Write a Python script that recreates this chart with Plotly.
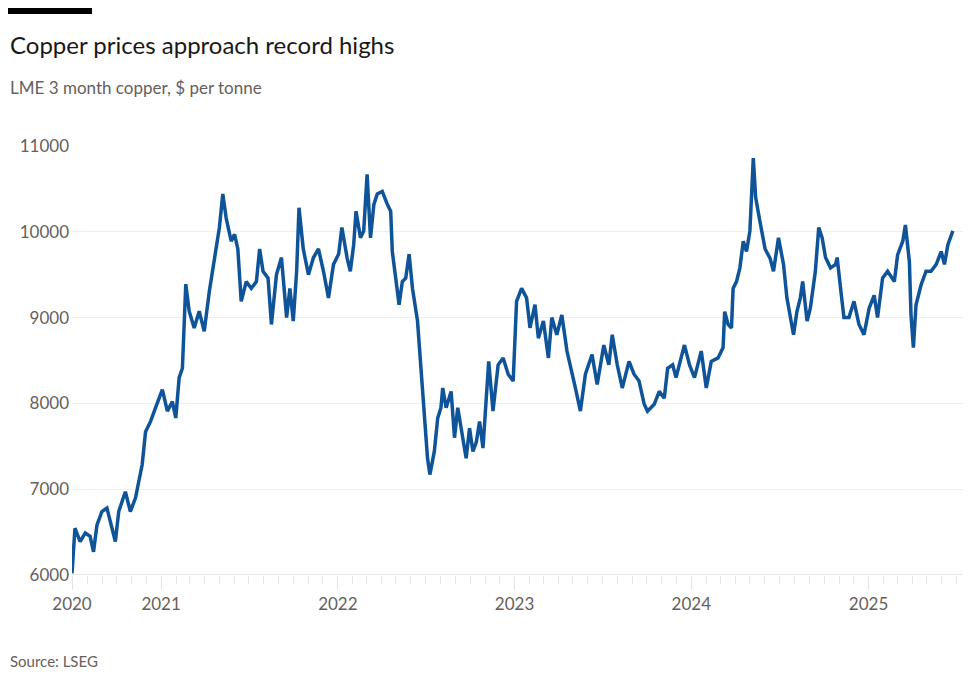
import pandas as pd
import plotly.graph_objects as go

# months after 1 July 2020, and LME 3 month copper price ($/t)
months = [0.0, 0.2, 0.55, 0.9, 1.23, 1.46, 1.69, 2.03, 2.37, 2.71, 2.94, 3.17, 3.62, 3.96, 4.31, 4.53,
          4.76, 4.99, 5.33, 5.67, 6.13, 6.47, 6.81, 7.04, 7.27, 7.49, 7.72, 7.95, 8.29, 8.63, 8.97,
          9.32, 9.66, 10.0, 10.23, 10.46, 10.8, 11.03, 11.25, 11.48, 11.82, 12.16, 12.51, 12.73,
          12.96, 13.3, 13.53, 13.87, 14.21, 14.56, 14.78, 15.01, 15.24, 15.4, 15.69, 16.04, 16.38,
          16.72, 17.06, 17.4, 17.74, 18.09, 18.31, 18.66, 18.88, 19.11, 19.27, 19.57, 19.79, 20.02,
          20.25, 20.48, 20.71, 21.05, 21.39, 21.62, 21.73, 21.96, 22.19, 22.41, 22.64, 22.87, 23.1,
          23.44, 23.67, 23.9, 24.12, 24.28, 24.58, 24.81, 25.03, 25.15, 25.38, 25.72, 25.95, 26.17,
          26.51, 26.74, 26.97, 27.2, 27.43, 27.65, 27.88, 28.11, 28.27, 28.56, 28.91, 29.25, 29.59,
          29.93, 30.16, 30.5, 30.84, 31.07, 31.41, 31.64, 31.98, 32.32, 32.55, 32.89, 33.23, 33.58,
          33.92, 34.15, 34.49, 34.83, 35.28, 35.63, 36.08, 36.42, 36.65, 36.99, 37.33, 37.79, 38.13,
          38.47, 38.82, 39.04, 39.5, 39.84, 40.18, 40.41, 40.75, 40.98, 41.32, 41.55, 41.89, 42.23,
          42.69, 43.03, 43.37, 43.83, 44.17, 44.28, 44.51, 44.74, 44.85, 45.08, 45.31, 45.54, 45.76,
          45.99, 46.22, 46.38, 46.67, 47.02, 47.36, 47.59, 47.93, 48.27, 48.5, 48.72, 48.95, 49.18,
          49.41, 49.57, 49.87, 50.09, 50.43, 50.66, 50.89, 51.12, 51.46, 51.8, 51.91, 52.14, 52.37,
          52.71, 53.05, 53.39, 53.73, 54.08, 54.42, 54.65, 54.99, 55.33, 55.79, 56.01, 56.36, 56.54,
          56.81, 56.92, 57.08, 57.26, 57.6, 57.94, 58.28, 58.63, 58.97, 59.19, 59.42, 59.76]
prices = [6020, 6545, 6390, 6490, 6450, 6270, 6580, 6740, 6780, 6545, 6390, 6740, 6970, 6740, 6900, 7090,
          7285, 7670, 7790, 7950, 8160, 7910, 8020, 7830, 8300, 8410, 9390, 9075, 8880, 9075, 8840,
          9310, 9700, 10050, 10440, 10160, 9890, 9970, 9800, 9190, 9420, 9340, 9420, 9800,
          9540, 9460, 8920, 9500, 9700, 9000, 9340, 8960, 9540, 10280, 9800, 9500, 9700,
          9800, 9540, 9230, 9620, 9740, 10050, 9700, 9540, 9850, 10240, 9930, 10010, 10670,
          9930, 10320, 10440, 10470, 10320, 10240, 9770, 9460, 9150, 9420, 9460, 9740, 9340,
          8960, 8410, 7870, 7360, 7170, 7440, 7830, 7950, 8180, 7950, 8140, 7600, 7950,
          7630, 7360, 7710, 7440, 7550, 7790, 7480, 8100, 8490, 7910, 8450, 8530, 8340,
          8260, 9190, 9340, 9230, 8880, 9150, 8760, 8960, 8530, 9000, 8800, 9030, 8610,
          8370, 8180, 7910, 8340, 8570, 8220, 8680, 8450, 8800, 8450, 8180, 8490, 8340,
          8260, 7990, 7910, 7990, 8140, 8060, 8410, 8450, 8300, 8530, 8680, 8450, 8300,
          8610, 8180, 8490, 8530, 8650, 9070, 8920, 8880, 9340, 9420, 9580, 9890, 9770,
          10010, 10860, 10400, 10120, 9800, 9690, 9540, 9930, 9620, 9230, 9000, 8800, 9070,
          9230, 9420, 8960, 9110, 9540, 10050, 9930, 9700, 9580, 9620, 9700, 9340, 9000,
          9000, 9190, 8920, 8800, 9110, 9260, 9000, 9460, 9540, 9420, 9730, 9890, 10080,
          9650, 9030, 8650, 9150, 9380, 9540, 9540, 9620, 9770, 9620, 9850, 10010]
year_ticks = ["2020-07-01", "2021-01-01", "2022-01-01", "2023-01-01", "2024-01-01", "2025-01-01"]
year_labels = ["2020", "2021", "2022", "2023", "2024", "2025"]
y_ticks = [6000, 7000, 8000, 9000, 10000, 11000]

start = pd.Timestamp("2020-07-01")
dates = [start + pd.Timedelta(days=m * 30.44) for m in months]

fig = go.Figure(go.Scatter(x=dates, y=prices, mode="lines",
                           line=dict(color="#0f5499", width=3.5), hoverinfo="skip"))

grey = "#66605c"
fig.update_layout(
    width=975, height=696, plot_bgcolor="white", paper_bgcolor="white",
    margin=dict(l=64, r=20, t=138, b=129), showlegend=False,
    font=dict(family="Lato, Noto Sans, sans-serif", color=grey),
    xaxis=dict(range=["2020-07-01", "2025-07-15"], tickvals=year_ticks, ticktext=year_labels,
               ticks="outside", ticklen=14, tickcolor="#e6e2dc", tickfont=dict(size=17, color=grey),
               showgrid=False, zeroline=False, showline=False,
               minor=dict(dtick="M1", tick0="2020-07-01", ticks="outside", ticklen=8,
                          tickcolor="#e6e2dc", showgrid=False)),
    yaxis=dict(range=[6000, 11000], tickvals=y_ticks, ticktext=[str(v) for v in y_ticks],
               showgrid=True, gridcolor="#f0eeeb",
               zeroline=False, tickfont=dict(size=17, color=grey), ticks="", ticklabelstandoff=2),
)
fig.add_shape(type="line", xref="paper", yref="y", x0=0, x1=1, y0=6000, y1=6000,
              line=dict(color="#e6e2dc", width=1.5))
fig.add_shape(type="rect", xref="paper", yref="paper", x0=-64/891, x1=20/891, y0=1 + 132/429,
              y1=1 + 138/429, fillcolor="black", line_width=0)
fig.add_annotation(text="Copper prices approach record highs", xref="paper", yref="paper",
                   x=-64/891, y=1 + 102/429, xanchor="left", yanchor="middle", showarrow=False,
                   font=dict(size=24, color="#1a1817"))
fig.add_annotation(text="LME 3 month copper, $ per tonne", xref="paper", yref="paper",
                   x=-64/891, y=1 + 58/429, xanchor="left", yanchor="middle", showarrow=False,
                   font=dict(size=17, color=grey))
fig.add_annotation(text="Source: LSEG", xref="paper", yref="paper",
                   x=-64/891, y=-86/429, xanchor="left", yanchor="middle", showarrow=False,
                   font=dict(size=15, color=grey))

fig.write_html("out.html")
